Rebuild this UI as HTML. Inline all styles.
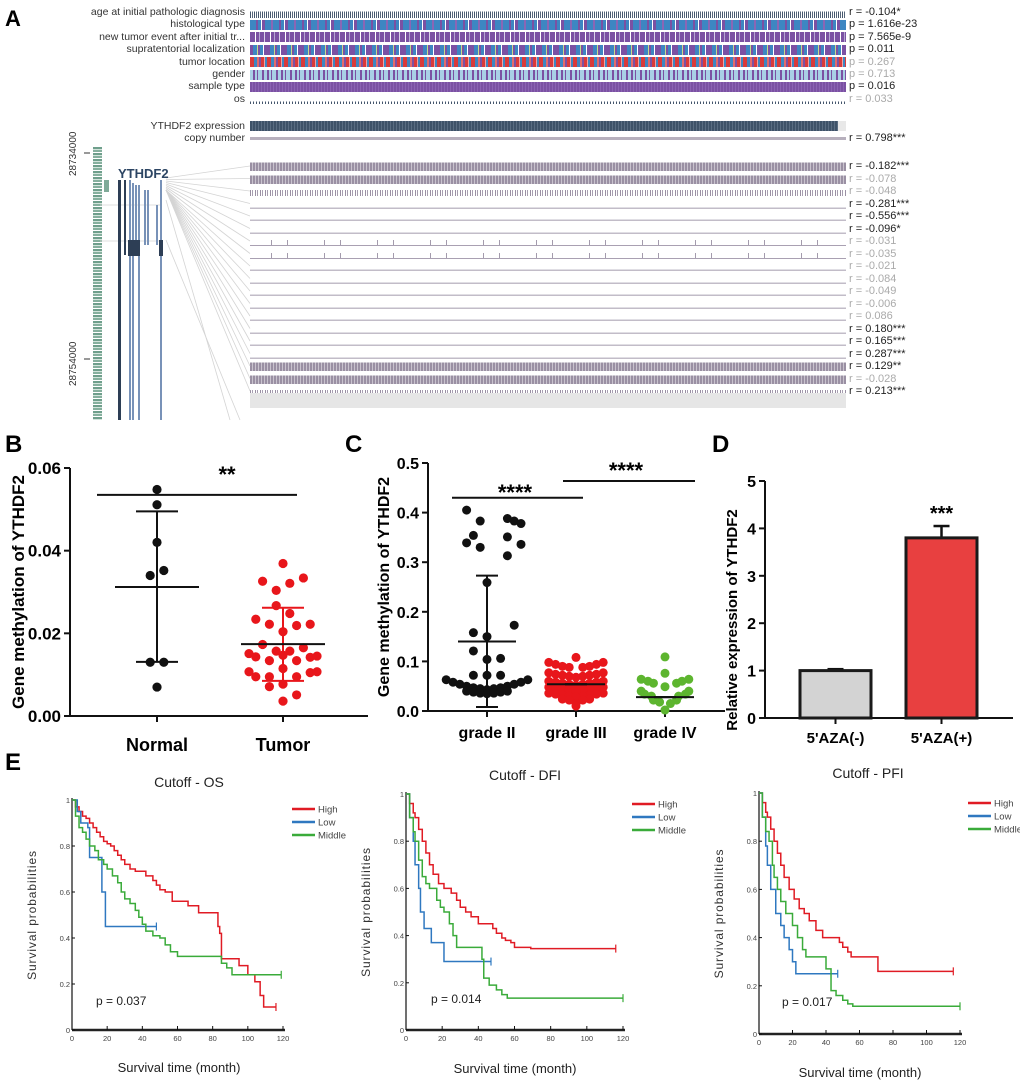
<!DOCTYPE html>
<html><head><meta charset="utf-8">
<style>
html,body{margin:0;padding:0;background:#fff;}
body{width:1020px;height:1083px;position:relative;overflow:hidden;font-family:"Liberation Sans",Arial,sans-serif;}
.lab{position:absolute;right:775px;font-family:"Liberation Sans Narrow","Liberation Sans",sans-serif;font-size:10.5px;color:#333;white-space:nowrap;line-height:11px;}
.trk{position:absolute;left:250px;width:596px;height:10px;}
.rl{position:absolute;left:849px;font-family:"Liberation Sans Narrow","Liberation Sans",sans-serif;font-size:11px;color:#222;white-space:nowrap;line-height:11px;}
.rl.ns{color:#aaa;}
svg{position:absolute;left:0;top:0;}
</style></head>
<body>
<div>
<div class="lab" style="top:7px">age at initial pathologic diagnosis</div>
<div class="lab" style="top:19px">histological type</div>
<div class="lab" style="top:32px">new tumor event after initial tr...</div>
<div class="lab" style="top:44px">supratentorial localization</div>
<div class="lab" style="top:57px">tumor location</div>
<div class="lab" style="top:69px">gender</div>
<div class="lab" style="top:81px">sample type</div>
<div class="lab" style="top:94px">os</div>
<div class="lab" style="top:121px">YTHDF2 expression</div>
<div class="lab" style="top:133px">copy number</div>

<div class="trk" style="top:8px;background:linear-gradient(#fff 0 35%,transparent 35%),repeating-linear-gradient(90deg,#44566c 0 1px,#fff 1px 2px,#56667a 2px 3px,#fff 3px 4px);"></div>
<div class="trk" style="top:20px;background:repeating-linear-gradient(90deg,#3d86c2 0 6px,#7b51a3 6px 8px,#3d86c2 8px 11px,#fff 11px 12px,#7b51a3 12px 15px,#3d86c2 15px 21px,#8a66b5 21px 23px);"></div>
<div class="trk" style="top:32px;background:repeating-linear-gradient(90deg,#7b51a3 0 5px,#fff 5px 6px,#7b51a3 6px 9px,#b5a6d2 9px 10px,#7b51a3 10px 14px,#dcd4ea 14px 15px);"></div>
<div class="trk" style="top:45px;background:repeating-linear-gradient(90deg,#7b51a3 0 3px,#3d86c2 3px 7px,#c8d98a 7px 8px,#7b51a3 8px 10px,#3d86c2 10px 13px,#fff 13px 14px,#7b51a3 14px 17px);"></div>
<div class="trk" style="top:57px;background:repeating-linear-gradient(90deg,#d93a3a 0 4px,#3d86c2 4px 7px,#e46a6a 7px 9px,#7b51a3 9px 11px,#d93a3a 11px 14px,#f0a0a0 14px 15px,#3d86c2 15px 17px);"></div>
<div class="trk" style="top:70px;background:repeating-linear-gradient(90deg,#a9cfe6 0 3px,#7b51a3 3px 5px,#a9cfe6 5px 7px,#7b51a3 7px 8px,#a9cfe6 8px 12px,#7b51a3 12px 14px);"></div>
<div class="trk" style="top:82px;background:repeating-linear-gradient(90deg,#7b51a3 0 2px,#8b63b3 2px 3px);"></div>
<div class="trk" style="top:94px;background:linear-gradient(#fff 0 75%,transparent 75%),repeating-linear-gradient(90deg,#44566c 0 1px,#fff 1px 3px);"></div>
<div class="trk" style="top:121px;background:#e8e8e8;"></div>
<div class="trk" style="top:121px;width:588px;background:repeating-linear-gradient(90deg,#3e5268 0 2px,#5a6d82 2px 3px);"></div>
<div class="trk" style="top:137px;height:3px;background:#b7b0bd;"></div>

<div class="rl" style="top:7px">r = -0.104*</div>
<div class="rl" style="top:19px">p = 1.616e-23</div>
<div class="rl" style="top:32px">p = 7.565e-9</div>
<div class="rl" style="top:44px">p = 0.011</div>
<div class="rl ns" style="top:57px">p = 0.267</div>
<div class="rl ns" style="top:69px">p = 0.713</div>
<div class="rl" style="top:81px">p = 0.016</div>
<div class="rl ns" style="top:94px">r = 0.033</div>
<div class="rl" style="top:133px">r = 0.798***</div>
<div id="methRows"></div>
<div style="position:absolute;left:250px;top:393px;width:596px;height:15px;background:#e6e6e6;"></div>
<div style="position:absolute;left:93px;top:147px;width:9px;height:273px;background:repeating-linear-gradient(180deg,#6f9f8c 0 2px,#d3e4dc 2px 3px,#86b09e 3px 5px,#fff 5px 6px);"></div>
<div style="position:absolute;left:104px;top:180px;width:5px;height:12px;background:#7faa98;"></div>
</div>

<svg id="main" width="1020" height="1083" xmlns="http://www.w3.org/2000/svg" font-family="Liberation Sans, Arial, sans-serif"></svg>

<script>
// ---------- Panel A methylation rows ----------
const methLabels = ["r = -0.182***","r = -0.078","r = -0.048","r = -0.281***","r = -0.556***","r = -0.096*","r = -0.031","r = -0.035","r = -0.021","r = -0.084","r = -0.049","r = -0.006","r = 0.086","r = 0.180***","r = 0.165***","r = 0.287***","r = 0.129**","r = -0.028","r = 0.213***"];
const methSig = [1,0,0,1,1,1,0,0,0,0,0,0,0,1,1,1,1,0,1];
const methDensity = [3,3,2,0,0,0,1,1,0,0,0,0,0,0,0,0,3,3,2];

// ---------- Panel B data ----------
const bCategories = ["Normal","Tumor"];
const bNormalVals = [0.0548,0.0511,0.042,0.034,0.0352,0.013,0.013,0.007];
const bNormalSlot = [0,0,0,-1,1,-1,1,0];
const bTumorVals = [0.0369,0.0326,0.0334,0.0321,0.0304,0.0267,0.0248,0.0234,0.0222,0.0219,0.0222,0.0204,0.0173,0.0157,0.0157,0.0165,0.0151,0.0143,0.0134,0.0147,0.0134,0.0142,0.0145,0.0107,0.0095,0.0095,0.0115,0.0095,0.0105,0.0107,0.0071,0.0077,0.0051,0.0036];
const bTumorSlot = [0,-3,3,1,-1,-1,1,-4,-2,2,4,0,-3,-1,1,3,-5,-4,-2,0,2,4,5,-5,-4,-2,0,2,4,5,-2,0,2,0];
const bMean = [0.0312,0.0174];
const bErrLo = [0.0131,0.0085];
const bErrHi = [0.0495,0.0262];
const bTicks = [0,0.02,0.04,0.06];
const bTickLabels = ["0.00","0.02","0.04","0.06"];

// ---------- Panel C data ----------
const cCategories = ["grade II","grade III","grade IV"];
const c2Vals = [0.405,0.383,0.388,0.383,0.378,0.354,0.339,0.351,0.336,0.330,0.313,0.259,0.173,0.158,0.150,0.121,0.104,0.106,0.072,0.072,0.072,0.063,0.058,0.054,0.050,0.047,0.045,0.043,0.045,0.047,0.050,0.054,0.058,0.063,0.040,0.038,0.036,0.035,0.036,0.038,0.040];
const c2Slot = [-3,-1,3,4,5,-2,-3,3,5,-1,3,0,4,-2,0,-2,0,2,-2,0,2,-6,-5,-4,-3,-2,-1,0,1,2,3,4,5,6,-3,-2,-1,0,1,2,3];
const c3Vals = [0.108,0.098,0.098,0.094,0.094,0.090,0.090,0.088,0.088,0.077,0.077,0.074,0.074,0.072,0.072,0.070,0.070,0.068,0.060,0.060,0.058,0.058,0.056,0.056,0.054,0.054,0.052,0.048,0.048,0.046,0.046,0.044,0.044,0.042,0.042,0.040,0.036,0.036,0.034,0.034,0.032,0.032,0.030,0.030,0.028,0.024,0.024,0.022,0.022,0.015,0.010];
const c3Slot = [0,-4,4,-3,3,-2,2,-1,1,-4,4,-3,3,-2,2,-1,1,0,-4,4,-3,3,-2,2,-1,1,0,-4,4,-3,3,-2,2,-1,1,0,-4,4,-3,3,-2,2,-1,1,0,-2,2,-1,1,0,0];
const c4Vals = [0.109,0.076,0.064,0.064,0.060,0.060,0.056,0.056,0.049,0.040,0.040,0.034,0.034,0.030,0.030,0.022,0.022,0.018,0.015,0.002];
const c4Slot = [0,0,-3.5,3.5,-2.5,2.5,-1.7,1.7,0,-3.5,3.5,-3,3,-2,2,-1.7,1.7,-0.8,0.8,0];
const cMean = [0.14,0.054,0.028];
const cErrLo = [0.008,0.054,0.028];
const cErrHi = [0.273,0.054,0.028];
const cTicks = [0,0.1,0.2,0.3,0.4,0.5];
const cTickLabels = ["0.0","0.1","0.2","0.3","0.4","0.5"];

// ---------- Panel D data ----------
const dCategories = ["5'AZA(-)","5'AZA(+)"];
const dValues = [1.0,3.8];
const dErr = [0.03,0.25];
const dTicks = [0,1,2,3,4,5];

// ---------- Panel E data ----------
const osHighT = [0,2,4,6,8,10,12,14,16,18,20,22,24,26,28,30,33,36,39,42,46,48,50,53,57,63,66,72,78,82,83,84,85,90,95,100,104,107,109,116];
const osHighS = [1,0.97,0.95,0.93,0.92,0.9,0.88,0.86,0.84,0.82,0.81,0.8,0.78,0.76,0.74,0.72,0.7,0.69,0.69,0.67,0.65,0.63,0.61,0.6,0.56,0.56,0.54,0.51,0.51,0.51,0.45,0.42,0.31,0.31,0.28,0.24,0.21,0.15,0.1,0.1];
const osLowT = [0,3,5,9,10,15,17,19,48];
const osLowS = [1,0.95,0.9,0.88,0.75,0.75,0.6,0.45,0.45];
const osMidT = [0,2,4,6,8,10,13,15,18,20,23,26,28,30,33,36,38,40,42,46,50,53,56,60,80,85,88,91,119];
const osMidS = [1,0.93,0.88,0.86,0.83,0.8,0.78,0.74,0.72,0.7,0.67,0.64,0.6,0.57,0.55,0.52,0.49,0.46,0.43,0.41,0.4,0.37,0.34,0.32,0.32,0.29,0.27,0.24,0.24];

const dfiHighT = [0,2,4,5,7,9,11,13,15,18,21,25,28,30,33,36,40,45,48,50,53,55,58,60,69,116];
const dfiHighS = [1,0.96,0.92,0.9,0.85,0.8,0.75,0.7,0.66,0.62,0.6,0.58,0.55,0.52,0.5,0.48,0.45,0.45,0.43,0.41,0.39,0.38,0.37,0.35,0.345,0.345];
const dfiLowT = [0,2,4,5,7,8,10,14,21,47];
const dfiLowS = [1,0.9,0.8,0.7,0.6,0.5,0.43,0.37,0.29,0.29];
const dfiMidT = [0,2,4,5,7,9,11,13,17,19,21,24,26,28,35,42,43,46,50,53,56,120];
const dfiMidS = [1,0.9,0.84,0.8,0.72,0.65,0.62,0.6,0.55,0.52,0.5,0.45,0.4,0.35,0.35,0.3,0.22,0.19,0.17,0.15,0.135,0.135];

const pfiHighT = [0,2,4,5,7,9,11,13,15,18,21,24,27,30,34,38,45,48,50,53,55,65,71,116];
const pfiHighS = [1,0.96,0.92,0.9,0.85,0.8,0.75,0.7,0.65,0.6,0.56,0.52,0.5,0.47,0.43,0.4,0.4,0.38,0.36,0.34,0.32,0.32,0.26,0.26];
const pfiLowT = [0,2,4,5,7,10,13,15,18,20,22,47];
const pfiLowS = [1,0.9,0.78,0.7,0.6,0.5,0.45,0.4,0.35,0.3,0.25,0.25];
const pfiMidT = [0,2,4,6,8,9,11,13,16,20,23,26,28,36,40,43,46,50,53,56,120];
const pfiMidS = [1,0.9,0.84,0.8,0.7,0.65,0.6,0.55,0.5,0.45,0.4,0.35,0.32,0.32,0.27,0.18,0.16,0.14,0.125,0.115,0.115];

const kmXTicks = [0,20,40,60,80,100,120];
const kmYTicks = [0,0.2,0.4,0.6,0.8,1];
const kmYLabels = ["0","0.2","0.4","0.6","0.8","1"];

// ---------- helpers ----------
const NS = "http://www.w3.org/2000/svg";
const svg = document.getElementById('main');
function mk(tag, attrs, parent, txt){
  const e = document.createElementNS(NS, tag);
  for (const k in attrs) e.setAttribute(k, attrs[k]);
  if (txt !== undefined) e.textContent = txt;
  (parent||svg).appendChild(e);
  return e;
}

const mr = document.getElementById('methRows');
methLabels.forEach((lab,i)=>{
  const cy = 166 + i*12.5;
  const tr = document.createElement('div');
  tr.className = 'trk';
  
  
  tr.style.top = (cy-5)+'px';
  const d = methDensity[i];
  if (d===3) tr.style.background = 'linear-gradient(#fff 0 15%,transparent 15%),repeating-linear-gradient(90deg,#9a90a3 0 2px,#c9c3ce 2px 3px)';
  else if (d===2) tr.style.background = 'linear-gradient(#fff 0 40%,transparent 40%),repeating-linear-gradient(90deg,#9a90a3 0 1px,#fff 1px 2px,#a79eb0 2px 3px,#fff 3px 5px)';
  else if (d===1) tr.style.background = 'linear-gradient(transparent 0 88%,#a9a0b2 88%),linear-gradient(#fff 0 40%,transparent 40%),repeating-linear-gradient(90deg,#fff 0 21px,#a49bad 21px 22px,#fff 22px 37px,#a49bad 37px 38px,#fff 38px 53px)';
  else tr.style.background = 'linear-gradient(transparent 0 85%,#c2bcc8 85%)';
  mr.appendChild(tr);
  const l = document.createElement('div');
  l.className = 'rl' + (methSig[i] ? '' : ' ns');
  
  
  l.style.top = (cy-5)+'px';
  l.textContent = lab;
  mr.appendChild(l);
});

const gA = mk('g',{});


mk('text',{x:0,y:0,'font-size':10,fill:'#333',transform:'translate(76,176) rotate(-90)','font-family':'Liberation Sans Narrow, Liberation Sans, sans-serif'},gA,'28734000');
mk('text',{x:0,y:0,'font-size':10,fill:'#333',transform:'translate(76,386) rotate(-90)','font-family':'Liberation Sans Narrow, Liberation Sans, sans-serif'},gA,'28754000');
mk('line',{x1:84,x2:90,y1:153,y2:153,stroke:'#333'},gA);
mk('line',{x1:84,x2:90,y1:359,y2:359,stroke:'#333'},gA);
methLabels.forEach((lab,i)=>{
  mk('line',{x1:166,y1:178+Math.min(i,8)*1.5,x2:250,y2:166+i*12.5,stroke:'#d4d4d4','stroke-width':0.8},gA);
});
mk('line',{x1:166,y1:200,x2:230,y2:420,stroke:'#d4d4d4','stroke-width':0.8},gA);
mk('line',{x1:166,y1:240,x2:240,y2:420,stroke:'#d4d4d4','stroke-width':0.8},gA);
mk('line',{x1:100,y1:241,x2:160,y2:241,stroke:'#d4d4d4','stroke-width':0.8},gA);
mk('line',{x1:100,y1:205,x2:160,y2:205,stroke:'#d4d4d4','stroke-width':0.8},gA);
mk('text',{x:118,y:178,'font-size':13,'font-weight':'bold',fill:'#2c4563'},gA,'YTHDF2');
[[118,3,180,420,'#2d3e55'],[124,2,180,255,'#2d3e55'],[129,2,180,420,'#7892b8'],[132,2,183,420,'#7892b8'],[135,2,185,250,'#7892b8'],[138,2,185,420,'#7892b8'],[144,2,190,245,'#7892b8'],[147,2,190,245,'#7892b8'],[156,2,205,245,'#7892b8'],[160,2,180,420,'#7892b8']].forEach(t=>{
  mk('rect',{x:t[0],y:t[2],width:t[1],height:t[3]-t[2],fill:t[4]},gA);
});
mk('rect',{x:128,y:240,width:12,height:16,fill:'#2d3e55'},gA);
mk('rect',{x:159,y:240,width:4,height:16,fill:'#2d3e55'},gA);
mk('text',{x:5,y:26,'font-size':22,'font-weight':'bold',fill:'#000'},gA,'A');

// ---------- Panel B ----------
(function(){
  const g = mk('g',{});
  
  
  const x0=70, x1=368, yb=716, yt=468, vmax=0.06;
  const y = v => yb - v/vmax*(yb-yt);
  const cx = [157,283];
  const slotW = 6.8;
  mk('text',{x:5,y:452,'font-size':24,'font-weight':'bold'},g,'B');
  mk('line',{x1:x0,x2:x0,y1:yt,y2:yb,stroke:'#111','stroke-width':2},g);
  mk('line',{x1:x0-1,x2:x1,y1:yb,y2:yb,stroke:'#111','stroke-width':2},g);
  bTicks.forEach((t,i)=>{
    mk('line',{x1:x0-6,x2:x0,y1:y(t),y2:y(t),stroke:'#111','stroke-width':2},g);
    mk('text',{x:x0-9,y:y(t)+6,'font-size':17,'font-weight':'bold','text-anchor':'end'},g,bTickLabels[i]);
  });
  bCategories.forEach((c,i)=>{
    mk('line',{x1:cx[i],x2:cx[i],y1:yb,y2:yb+6,stroke:'#111','stroke-width':2},g);
    mk('text',{x:cx[i],y:yb+35,'font-size':18,'font-weight':'bold','text-anchor':'middle'},g,c);
  });
  mk('text',{x:0,y:0,'font-size':17,'font-weight':'bold','text-anchor':'middle',transform:'translate(24,592) rotate(-90)'},g,'Gene methylation of YTHDF2');
  bNormalVals.forEach((v,i)=>{
    const d = mk('circle',{cx:cx[0]+bNormalSlot[i]*slotW,cy:y(v),r:4.6,fill:'#111'},g);
    
  });
  bTumorVals.forEach((v,i)=>{
    const d = mk('circle',{cx:cx[1]+bTumorSlot[i]*slotW,cy:y(v),r:4.6,fill:'#e8161b'},g);
    
  });
  const cols = ['#111','#e8161b'];
  [0,1].forEach(i=>{
    mk('line',{x1:cx[i],x2:cx[i],y1:y(bErrLo[i]),y2:y(bErrHi[i]),stroke:cols[i],'stroke-width':2},g);
    mk('line',{x1:cx[i]-21,x2:cx[i]+21,y1:y(bErrLo[i]),y2:y(bErrLo[i]),stroke:cols[i],'stroke-width':2},g);
    mk('line',{x1:cx[i]-21,x2:cx[i]+21,y1:y(bErrHi[i]),y2:y(bErrHi[i]),stroke:cols[i],'stroke-width':2},g);
    mk('line',{x1:cx[i]-42,x2:cx[i]+42,y1:y(bMean[i]),y2:y(bMean[i]),stroke:'#111','stroke-width':2},g);
  });
  mk('line',{x1:97,x2:297,y1:y(0.0535),y2:y(0.0535),stroke:'#111','stroke-width':2},g);
  mk('text',{x:227,y:482,'font-size':22,'font-weight':'bold','text-anchor':'middle'},g,'**');
})();

// ---------- Panel C ----------
(function(){
  const g = mk('g',{});
  
  
  const x0=428, x1=725, yb=711, yt=463, vmax=0.5;
  const y = v => yb - v/vmax*(yb-yt);
  const cx = [487,576,665];
  const slotW = 6.8;
  mk('text',{x:345,y:452,'font-size':24,'font-weight':'bold'},g,'C');
  mk('line',{x1:x0,x2:x0,y1:yt,y2:yb,stroke:'#111','stroke-width':2},g);
  mk('line',{x1:x0-1,x2:x1,y1:yb,y2:yb,stroke:'#111','stroke-width':2},g);
  cTicks.forEach((t,i)=>{
    mk('line',{x1:x0-6,x2:x0,y1:y(t),y2:y(t),stroke:'#111','stroke-width':2},g);
    mk('text',{x:x0-9,y:y(t)+6,'font-size':16,'font-weight':'bold','text-anchor':'end'},g,cTickLabels[i]);
  });
  cCategories.forEach((c,i)=>{
    mk('line',{x1:cx[i],x2:cx[i],y1:yb,y2:yb+6,stroke:'#111','stroke-width':2},g);
    mk('text',{x:cx[i],y:yb+27,'font-size':16,'font-weight':'bold','text-anchor':'middle'},g,c);
  });
  mk('text',{x:0,y:0,'font-size':16,'font-weight':'bold','text-anchor':'middle',transform:'translate(389,587) rotate(-90)'},g,'Gene methylation of YTHDF2');
  const sets = [[c2Vals,c2Slot,'#111'],[c3Vals,c3Slot,'#e8161b'],[c4Vals,c4Slot,'#5db52f']];
  sets.forEach((s,k)=>{
    s[0].forEach((v,i)=>{
      const d = mk('circle',{cx:cx[k]+s[1][i]*slotW,cy:y(v),r:4.5,fill:s[2]},g);
      
    });
  });
  cMean.forEach((m,i)=>{
    mk('line',{x1:cx[i],x2:cx[i],y1:y(cErrLo[i]),y2:y(cErrHi[i]),stroke:'#111','stroke-width':2},g);
    mk('line',{x1:cx[i]-11,x2:cx[i]+11,y1:y(cErrLo[i]),y2:y(cErrLo[i]),stroke:'#111','stroke-width':2},g);
    mk('line',{x1:cx[i]-11,x2:cx[i]+11,y1:y(cErrHi[i]),y2:y(cErrHi[i]),stroke:'#111','stroke-width':2},g);
    mk('line',{x1:cx[i]-29,x2:cx[i]+29,y1:y(m),y2:y(m),stroke:'#111','stroke-width':2},g);
  });
  mk('line',{x1:452,x2:583,y1:y(0.43),y2:y(0.43),stroke:'#111','stroke-width':2},g);
  mk('text',{x:515,y:500,'font-size':22,'font-weight':'bold','text-anchor':'middle'},g,'****');
  mk('line',{x1:563,x2:695,y1:481,y2:481,stroke:'#111','stroke-width':2},g);
  mk('text',{x:626,y:478,'font-size':22,'font-weight':'bold','text-anchor':'middle'},g,'****');
})();

// ---------- Panel D ----------
(function(){
  const g = mk('g',{});
  
  
  const x0=765, x1=1013, yb=718, yt=481, vmax=5;
  const y = v => yb - v/vmax*(yb-yt);
  const cx = [835.5,941.5], bw = 71;
  const fills = ['#d3d3d3','#e84040'];
  mk('text',{x:712,y:452,'font-size':24,'font-weight':'bold'},g,'D');
  mk('line',{x1:x0,x2:x0,y1:yt,y2:yb,stroke:'#111','stroke-width':2},g);
  mk('line',{x1:x0-1,x2:x1,y1:yb,y2:yb,stroke:'#111','stroke-width':2},g);
  dTicks.forEach(t=>{
    mk('line',{x1:x0-6,x2:x0,y1:y(t),y2:y(t),stroke:'#111','stroke-width':2},g);
    mk('text',{x:x0-9,y:y(t)+6,'font-size':16,'font-weight':'bold','text-anchor':'end'},g,String(t));
  });
  mk('text',{x:0,y:0,'font-size':15,'font-weight':'bold','text-anchor':'middle',transform:'translate(737,620) rotate(-90)'},g,'Relative expression of YTHDF2');
  dValues.forEach((v,i)=>{
    mk('line',{x1:cx[i],x2:cx[i],y1:y(v),y2:y(v+dErr[i]),stroke:'#111','stroke-width':2.5},g);
    mk('line',{x1:cx[i]-8,x2:cx[i]+8,y1:y(v+dErr[i]),y2:y(v+dErr[i]),stroke:'#111','stroke-width':2.5},g);
    const b = mk('rect',{x:cx[i]-bw/2,y:y(v),width:bw,height:yb-y(v),fill:fills[i],stroke:'#1a1a1a','stroke-width':3},g);
    
    mk('line',{x1:cx[i],x2:cx[i],y1:yb,y2:yb+6,stroke:'#111','stroke-width':2},g);
    mk('text',{x:cx[i],y:yb+25,'font-size':15,'font-weight':'bold','text-anchor':'middle'},g,dCategories[i]);
  });
  mk('text',{x:cx[1],y:y(dValues[1]+dErr[1])-6,'font-size':20,'font-weight':'bold','text-anchor':'middle'},g,'***');
})();

// ---------- Panel E ----------
mk('text',{x:5,y:770,'font-size':24,'font-weight':'bold'},svg,'E');
function km(cfg){
  const g = mk('g',{'font-family':'Liberation Sans Narrow, Liberation Sans, sans-serif'});
  
  
  const X = t => cfg.x0 + t/120*(cfg.x1-cfg.x0);
  const Y = s => cfg.yb - s*(cfg.yb-cfg.yt);
  mk('text',{x:cfg.tx,y:cfg.ty,'font-size':14,'text-anchor':'middle',fill:'#222'},g,cfg.title);
  mk('line',{x1:cfg.x0,x2:cfg.x0,y1:cfg.yt-2,y2:cfg.yb,stroke:'#111','stroke-width':1.2},g);
  mk('line',{x1:cfg.x0,x2:cfg.x1+2,y1:cfg.yb,y2:cfg.yb,stroke:'#222','stroke-width':2.5},g);
  kmYTicks.forEach((t,i)=>{
    mk('line',{x1:cfg.x0,x2:cfg.x0+3,y1:Y(t),y2:Y(t),stroke:'#111'},g);
    mk('text',{x:cfg.x0-2,y:Y(t)+3,'font-size':7.5,'text-anchor':'end',fill:'#444'},g,kmYLabels[i]);
  });
  kmXTicks.forEach(t=>{
    mk('line',{x1:X(t),x2:X(t),y1:cfg.yb-4,y2:cfg.yb,stroke:'#111'},g);
    mk('text',{x:X(t),y:cfg.yb+11,'font-size':7.5,'text-anchor':'middle',fill:'#444'},g,String(t));
  });
  mk('text',{x:0,y:0,'font-size':12,'text-anchor':'middle',fill:'#333','letter-spacing':'0.9','font-family':'Liberation Sans, sans-serif',transform:`translate(${cfg.x0-36},${(cfg.yt+cfg.yb)/2}) rotate(-90)`},g,'Survival probabilities');
  mk('text',{x:cfg.xlx,y:cfg.xly,'font-size':13,'text-anchor':'middle',fill:'#222'},g,'Survival time (month)');
  mk('text',{x:cfg.px,y:cfg.py,'font-size':12,fill:'#222'},g,cfg.p);
  const series = [[cfg.hT,cfg.hS,'#e01b24','High'],[cfg.lT,cfg.lS,'#2f78c0','Low'],[cfg.mT,cfg.mS,'#3aab3a','Middle']];
  series.forEach((s,k)=>{
    let d = `M${X(s[0][0])},${Y(s[1][0])}`;
    for (let i=1;i<s[0].length;i++){ d += ` H${X(s[0][i])} V${Y(s[1][i])}`; }
    const p = mk('path',{d:d,fill:'none',stroke:s[2],'stroke-width':1.5},g);
    
    const n = s[0].length-1;
    mk('line',{x1:X(s[0][n]),x2:X(s[0][n]),y1:Y(s[1][n])-4,y2:Y(s[1][n])+4,stroke:s[2],'stroke-width':1.2},g);
    const ly = cfg.ly + k*13;
    const le = mk('g',{},g);
    
    
    mk('line',{x1:cfg.lx,x2:cfg.lx+23,y1:ly,y2:ly,stroke:s[2],'stroke-width':2.5},le);
    mk('text',{x:cfg.lx+26,y:ly+3.5,'font-size':9.5,fill:'#444'},le,s[3]);
  });
}
km({name:'km-os',title:'Cutoff - OS',tx:189,ty:787,x0:72,x1:283,yt:800,yb:1030,xlx:179,xly:1072,px:96,py:1005,p:'p = 0.037',lx:292,ly:809,
  hT:osHighT,hS:osHighS,lT:osLowT,lS:osLowS,mT:osMidT,mS:osMidS});
km({name:'km-dfi',title:'Cutoff - DFI',tx:525,ty:780,x0:406,x1:623,yt:794,yb:1030,xlx:515,xly:1073,px:431,py:1003,p:'p = 0.014',lx:632,ly:804,
  hT:dfiHighT,hS:dfiHighS,lT:dfiLowT,lS:dfiLowS,mT:dfiMidT,mS:dfiMidS});
km({name:'km-pfi',title:'Cutoff - PFI',tx:868,ty:778,x0:759,x1:960,yt:793,yb:1034,xlx:860,xly:1077,px:782,py:1006,p:'p = 0.017',lx:968,ly:803,
  hT:pfiHighT,hS:pfiHighS,lT:pfiLowT,lS:pfiLowS,mT:pfiMidT,mS:pfiMidS});
</script>
</body></html>
